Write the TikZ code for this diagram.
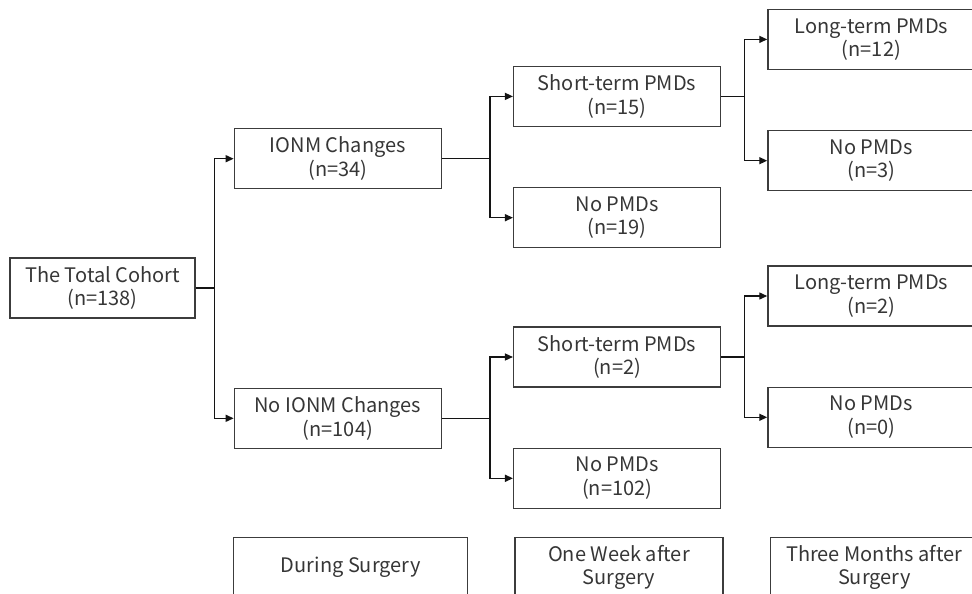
\documentclass[tikz,border=0pt]{standalone}
\usepackage{fontspec}
\setmainfont{Noto Sans CJK SC}
\usetikzlibrary{arrows.meta,positioning}
\definecolor{BoxLine}{HTML}{3C3C3C}
\definecolor{TextGray}{HTML}{363636}
\definecolor{LinkBlack}{HTML}{141414}

\begin{document}
\begin{tikzpicture}[
  x=1pt, y=-1pt,
  box/.style={draw=BoxLine, line width=1.3pt, minimum width=207pt, minimum height=60pt,
    align=center, inner sep=0pt, text=TextGray, font=\fontsize{20}{23.5}\selectfont},
  stagebox/.style={box, minimum width=234pt, anchor=north west},
  flow/.style={-{Triangle[length=8pt, width=7pt]}, line width=1.4pt, draw=LinkBlack}
]
\useasboundingbox (0,0) rectangle (972,594);
\node[box, minimum width=185pt] (total) at (102.5,288) {The Total Cohort\\(n=138)};
\node[box, above right=68pt and 38pt of total] (ionm) {IONM Changes\\(n=34)};
\node[box, below right=69pt and 38pt of total] (noionm) {No IONM Changes\\(n=104)};
\node[box, above right=1pt and 71pt of ionm] (shortA) {Short-term PMDs\\(n=15)};
\node[box, below=60pt of shortA] (noA) {No PMDs\\(n=19)};
\node[box, above right=0pt and 71pt of noionm] (shortB) {Short-term PMDs\\(n=2)};
\node[box, below=60pt of shortB] (noB) {No PMDs\\(n=102)};
\node[box, right=46pt of shortA, yshift=57pt] (longA) {Long-term PMDs\\(n=12)};
\node[box, below=60pt of longA] (noLA) {No PMDs\\(n=3)};
\node[box, right=46pt of shortB, yshift=61pt] (longB) {Long-term PMDs\\(n=2)};
\node[box, below=60pt of longB] (noLB) {No PMDs\\(n=0)};
% time line
\node[stagebox] (during) at (233,537) {During Surgery};
\node[stagebox, minimum width=208pt, right=46pt of during.north east, anchor=north west] (week) {One Week after\\Surgery};
\node[stagebox, minimum width=208pt, right=46pt of week.north east, anchor=north west] (months) {Three Months after\\Surgery};
% branches
\draw[flow] (total.east) -- ++(19,0) |- (ionm.west);
\draw[flow] (total.east) -- ++(19,0) |- (noionm.west);
\draw[flow] (ionm.east) -- ++(48,0) |- (shortA.west);
\draw[flow] (ionm.east) -- ++(48,0) |- (noA.west);
\draw[flow] (noionm.east) -- ++(48,0) |- (shortB.west);
\draw[flow] (noionm.east) -- ++(48,0) |- (noB.west);
\draw[flow] (shortA.east) -- ++(23,0) |- (longA.west);
\draw[flow] (shortA.east) -- ++(23,0) |- (noLA.west);
\draw[flow] (shortB.east) -- ++(23,0) |- (longB.west);
\draw[flow] (shortB.east) -- ++(23,0) |- (noLB.west);
\end{tikzpicture}
\end{document}
